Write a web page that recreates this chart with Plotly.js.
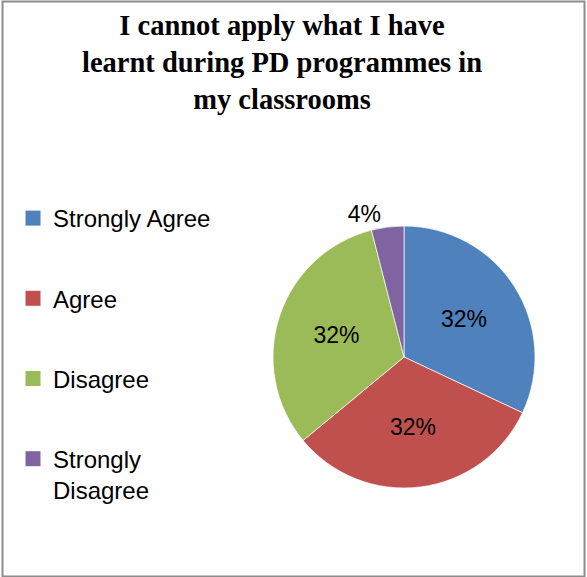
<!DOCTYPE html>
<html>
<head>
<meta charset="utf-8">
<script src="https://cdn.plot.ly/plotly-3.0.1.min.js"></script>
<style>
html,body{margin:0;padding:0;background:#fff;}
#chart{width:587px;height:577px;}
</style>
</head>
<body>
<div id="chart"></div>
<script>
var categories = ["Strongly Agree", "Agree", "Disagree", "Strongly Disagree"];
var legendLabels = ["Strongly Agree", "Agree", "Disagree", "Strongly<br>Disagree"];
var values = [32, 32, 32, 4];
var colors = ["#4F81BD", "#C0504D", "#9BBB59", "#8064A2"];
var textPositions = ["inside", "inside", "inside", "outside"];
var titleText = "I cannot apply what I have<br>learnt during PD programmes in<br>my classrooms";

var W = 587, H = 577;
var labelFont = "Liberation Sans, Arial, sans-serif";

var traces = [{
  type: "pie",
  labels: categories,
  values: values,
  sort: false,
  direction: "clockwise",
  rotation: 0,
  marker: {colors: colors, line: {color: "#ffffff", width: 0.7}},
  textinfo: "percent",
  texttemplate: "%{percent:.0%}",
  textposition: textPositions,
  insidetextorientation: "horizontal",
  textfont: {family: labelFont, size: 23, color: "#000000"},
  insidetextfont: {family: labelFont, size: 23, color: "#000000"},
  outsidetextfont: {family: labelFont, size: 23, color: "#000000"},
  showlegend: false,
  domain: {x: [273 / W, 535 / W], y: [89 / H, 351 / H]},
  hoverinfo: "none"
}];

for (var i = 0; i < categories.length; i++) {
  traces.push({
    type: "scatter",
    mode: "markers",
    x: [null],
    y: [null],
    name: legendLabels[i],
    legendgroup: "g" + i,
    marker: {symbol: "square", size: 15, color: colors[i]},
    hoverinfo: "none"
  });
}

var layout = {
  width: W,
  height: H,
  margin: {l: 0, r: 0, t: 0, b: 0},
  paper_bgcolor: "#ffffff",
  plot_bgcolor: "#ffffff",
  title: {
    text: titleText,
    font: {family: "Liberation Serif, Times New Roman, serif", size: 28.5, color: "#000000", weight: "bold"},
    x: 282 / W,
    xanchor: "center",
    xref: "paper",
    y: 1 - 35 / H,
    yref: "container",
    yanchor: "top"
  },
  xaxis: {visible: false},
  yaxis: {visible: false},
  showlegend: true,
  legend: {
    x: 13 / W,
    xanchor: "left",
    y: 1 - 196 / H,
    yanchor: "top",
    font: {family: labelFont, size: 24, color: "#000000"},
    tracegroupgap: 46,
    valign: "top",
    bgcolor: "rgba(0,0,0,0)",
    traceorder: "grouped"
  },
  shapes: [{
    type: "rect",
    xref: "paper", yref: "paper",
    x0: 2.5 / W, x1: 1 - 2.5 / W,
    y0: 0.5 / H, y1: 1 - 1.5 / H,
    line: {color: "#8c8c8c", width: 2},
    fillcolor: "rgba(0,0,0,0)"
  }]
};

Plotly.newPlot("chart", traces, layout, {staticPlot: true, displayModeBar: false});
</script>
</body>
</html>
